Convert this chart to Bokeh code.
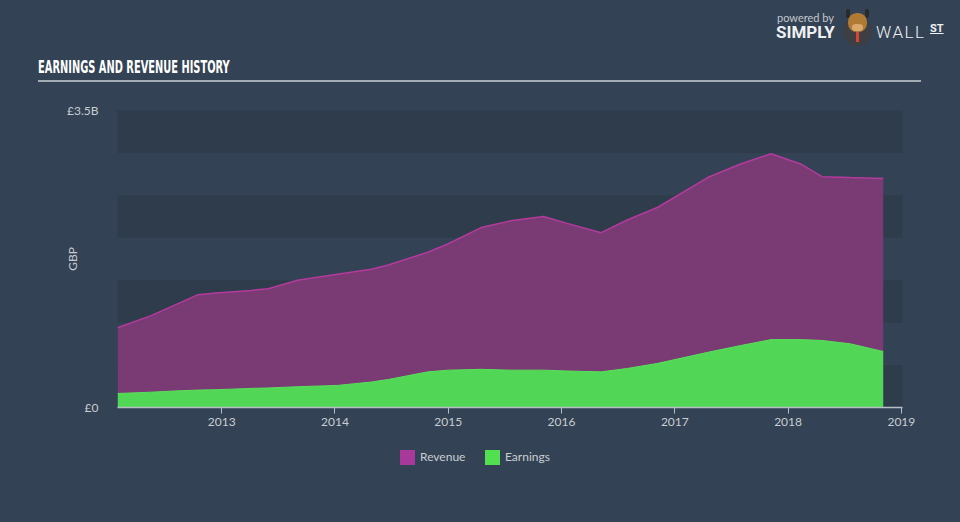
from bokeh.plotting import figure
from bokeh.layouts import column
from bokeh.models import Range1d, FixedTicker, BoxAnnotation, Div
from bokeh.embed import file_html
from bokeh.resources import INLINE

# ---- data (GBP) ----
years = [2012.08, 2012.37, 2012.59, 2012.79, 2012.95, 2013.26, 2013.41, 2013.67,
         2014.02, 2014.32, 2014.47, 2014.82, 2015.00, 2015.29, 2015.55, 2015.84,
         2016.05, 2016.35, 2016.58, 2016.85, 2017.29, 2017.58, 2017.85, 2018.11,
         2018.30, 2018.55, 2018.84]
revenue_b = [0.94, 1.08, 1.21, 1.33, 1.35, 1.38, 1.40, 1.50,
             1.57, 1.63, 1.68, 1.83, 1.93, 2.12, 2.20, 2.25,
             2.17, 2.06, 2.21, 2.36, 2.71, 2.87, 2.99, 2.87,
             2.72, 2.71, 2.70]
earnings_b = [0.165, 0.18, 0.195, 0.205, 0.21, 0.225, 0.23, 0.245,
              0.26, 0.30, 0.33, 0.42, 0.44, 0.45, 0.44, 0.44,
              0.43, 0.42, 0.46, 0.52, 0.65, 0.73, 0.80, 0.80,
              0.79, 0.75, 0.66]
x_ticks = [2013, 2014, 2015, 2016, 2017, 2018, 2019]
y_ticks = [0, 3.5e9]
y_tick_labels = {0: "£0", 3.5e9: "£3.5B"}
series_names = ["Revenue", "Earnings"]
title_text = "EARNINGS AND REVENUE HISTORY"

revenue = [v * 1e9 for v in revenue_b]
earnings = [v * 1e9 for v in earnings_b]

BG = "#334254"
BAND = "#2f3c4b"
TXT = "#c9cdd2"
FONT = "Lato"
REV_FILL, REV_LINE, REV_SW = "#7a3a74", "#b23b9c", "#a8389a"
EAR_FILL, EAR_LINE, EAR_SW = "#52d656", "#5be05c", "#52e050"

W = 960
HEAD_H, MAIN_H, FOOT_H = 100, 340, 82

# ---- header: title, rule, logo ----
head_html = f"""
<div style="position:relative;width:{W}px;height:{HEAD_H}px;overflow:hidden;">
  <div style="position:absolute;left:38px;top:57px;white-space:nowrap;line-height:20px;
       font-family:'DejaVu Sans Condensed','DejaVu Sans',sans-serif;font-weight:bold;
       font-size:17px;color:#ffffff;transform:scaleX(0.645);transform-origin:0 0;">{title_text}</div>
  <div style="position:absolute;left:38px;top:80px;width:883px;height:2px;background:#a3abb4;"></div>
  <div style="position:absolute;left:777px;top:12px;font-family:Lato,sans-serif;line-height:11px;
       font-size:11px;color:#c3c8ce;white-space:nowrap;">powered by</div>
  <div style="position:absolute;left:776px;top:24px;font-family:Roboto,sans-serif;line-height:16px;
       font-weight:bold;font-size:17px;color:#eef0f2;white-space:nowrap;">SIMPLY</div>
  <div style="position:absolute;left:843px;top:17px;width:29px;height:29px;border-radius:50%;
       background:#3d3f44;"></div>
  <div style="position:absolute;left:846px;top:9px;width:4px;height:9px;border-radius:2px;
       background:#2a2a2a;"></div>
  <div style="position:absolute;left:865px;top:9px;width:4px;height:9px;border-radius:2px;
       background:#2a2a2a;"></div>
  <div style="position:absolute;left:848px;top:13px;width:19px;height:19px;border-radius:45%;
       background:#b07a35;"></div>
  <div style="position:absolute;left:852px;top:24px;width:11px;height:7px;border-radius:40%;
       background:#d9a86a;"></div>
  <div style="position:absolute;left:856px;top:32px;width:3px;height:10px;background:#d8452a;"></div>
  <div style="position:absolute;left:876px;top:24px;font-family:Roboto,sans-serif;line-height:16px;
       font-weight:300;font-size:17px;letter-spacing:1.5px;color:#eef0f2;white-space:nowrap;">WALL</div>
  <div style="position:absolute;left:930px;top:23px;font-family:Roboto,sans-serif;line-height:11px;
       font-weight:bold;font-size:11px;color:#eef0f2;white-space:nowrap;
       text-decoration:underline;">ST</div>
</div>
"""
head = Div(text=head_html, width=W, height=HEAD_H, margin=0)

# ---- main chart ----
p = figure(width=W, height=MAIN_H, output_backend="svg", toolbar_location=None,
           x_range=Range1d(2012.08, 2019.01), y_range=Range1d(0, 3.5e9),
           min_border_left=117, min_border_right=58, min_border_top=10,
           min_border_bottom=33, margin=0)
p.background_fill_color = BG
p.border_fill_color = BG
p.outline_line_color = None
p.grid.visible = False

step = 0.5e9
k = 0
while k * step < 3.5e9:
    if k % 2 == 0:
        p.add_layout(BoxAnnotation(bottom=k * step, top=(k + 1) * step,
                                   fill_color=BAND, fill_alpha=1, line_color=None,
                                   level="underlay"))
    k += 1

p.varea(x=years, y1=earnings, y2=revenue, fill_color=REV_FILL)
p.line(x=years, y=revenue, line_color=REV_LINE, line_width=1.5)
p.varea(x=years, y1=0, y2=earnings, fill_color=EAR_FILL)
p.line(x=years, y=earnings, line_color=EAR_LINE, line_width=1)

xa = p.xaxis[0]
xa.ticker = FixedTicker(ticks=x_ticks)
xa.major_label_overrides = {t: str(t) for t in x_ticks}
xa.axis_line_color = "#b7bec6"
xa.axis_line_width = 1.5
xa.major_tick_line_color = "#b7bec6"
xa.major_tick_in = 0
xa.major_tick_out = 6
xa.minor_tick_line_color = None
xa.major_label_text_color = TXT
xa.major_label_text_font = FONT
xa.major_label_text_font_size = "12px"
xa.major_label_standoff = 4

ya = p.yaxis[0]
ya.ticker = FixedTicker(ticks=y_ticks)
ya.major_label_overrides = y_tick_labels
ya.axis_line_color = None
ya.major_tick_line_color = None
ya.minor_tick_line_color = None
ya.major_label_text_color = TXT
ya.major_label_text_font = FONT
ya.major_label_text_font_size = "12px"
ya.major_label_standoff = 13
ya.axis_label = "GBP"
ya.axis_label_text_color = TXT
ya.axis_label_text_font = FONT
ya.axis_label_text_font_style = "normal"
ya.axis_label_text_font_size = "12px"
ya.axis_label_standoff = -16

# ---- footer: legend ----
def item(x, color, name):
    return (f'<div style="position:absolute;left:{x}px;top:10px;width:15px;height:15px;'
            f'background:{color};"></div>'
            f'<div style="position:absolute;left:{x + 20}px;top:9px;font-family:Lato,sans-serif;'
            f'font-size:12px;line-height:16px;color:{TXT};white-space:nowrap;">{name}</div>')

foot_html = (f'<div style="position:relative;width:{W}px;height:{FOOT_H}px;">'
             + item(400, REV_SW, series_names[0]) + item(485, EAR_SW, series_names[1])
             + '</div>')
foot = Div(text=foot_html, width=W, height=FOOT_H, margin=0)

layout = column(head, p, foot, spacing=0)
html = file_html(layout, INLINE)
html = html.replace("</head>",
                    "<style>html,body{background:%s !important;}</style></head>" % BG, 1)
open("out.html", "w").write(html)
